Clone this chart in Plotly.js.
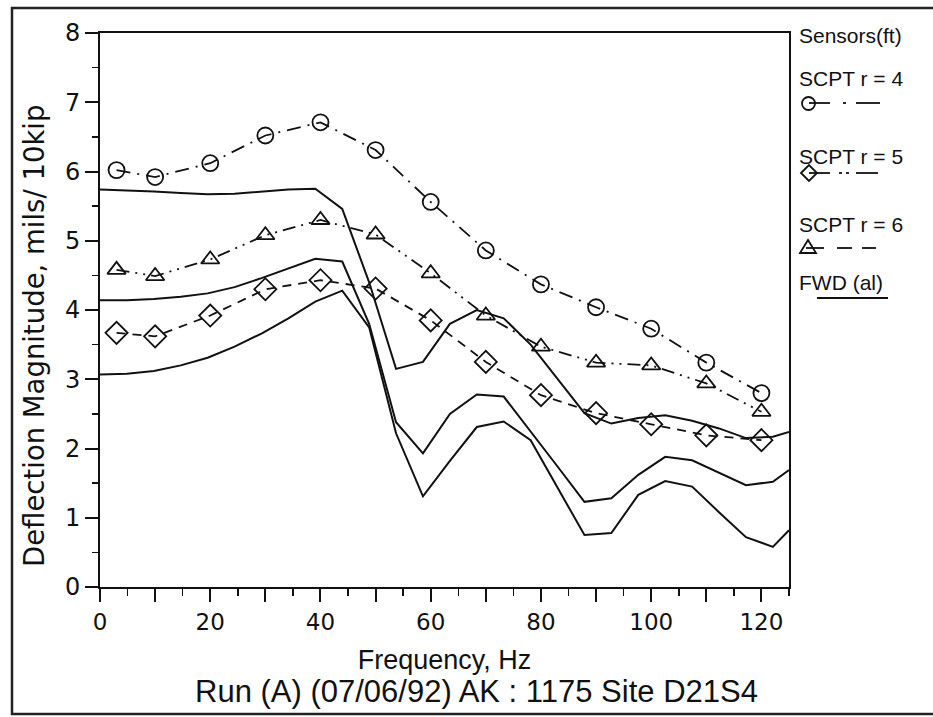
<!DOCTYPE html>
<html>
<head>
<meta charset="utf-8">
<script src="https://cdn.plot.ly/plotly-3.0.1.min.js"></script>
<style>
  html, body { margin: 0; padding: 0; background: #ffffff; }
  #chart { width: 933px; height: 717px; }
</style>
</head>
<body>
<div id="chart"></div>
<script>
// ---- Data ----
const sensorFreq = [3, 10, 20, 30, 40, 50, 60, 70, 80, 90, 100, 110, 120];
const scptR4 = [6.02, 5.92, 6.12, 6.52, 6.71, 6.31, 5.56, 4.86, 4.37, 4.04, 3.73, 3.24, 2.80];
const scptR5 = [3.67, 3.62, 3.92, 4.30, 4.43, 4.31, 3.85, 3.25, 2.77, 2.51, 2.35, 2.19, 2.12];
const scptR6 = [4.58, 4.49, 4.73, 5.08, 5.30, 5.09, 4.53, 3.92, 3.47, 3.24, 3.20, 2.94, 2.53];

const fwdFreq = [0, 4.88, 9.77, 14.65, 19.53, 24.41, 29.30, 34.18, 39.06, 43.95, 48.83, 53.71,
                 58.59, 63.48, 68.36, 73.24, 78.13, 83.01, 87.89, 92.77, 97.66, 102.54, 107.42,
                 112.30, 117.19, 122.07, 125];
const fwdUpper = [5.74, 5.73, 5.71, 5.69, 5.67, 5.68, 5.71, 5.74, 5.75, 5.46, 4.40, 3.15,
                  3.25, 3.80, 4.00, 3.88, 3.50, 3.00, 2.51, 2.36, 2.44, 2.48, 2.40,
                  2.29, 2.15, 2.17, 2.24];
const fwdMiddle = [4.14, 4.14, 4.16, 4.19, 4.24, 4.33, 4.46, 4.60, 4.74, 4.70, 3.80, 2.38,
                   1.93, 2.50, 2.78, 2.75, 2.25, 1.74, 1.23, 1.28, 1.62, 1.88, 1.83,
                   1.65, 1.47, 1.52, 1.69];
const fwdLower = [3.07, 3.08, 3.12, 3.20, 3.31, 3.47, 3.66, 3.88, 4.12, 4.28, 3.75, 2.22,
                  1.31, 1.82, 2.31, 2.39, 2.12, 1.43, 0.75, 0.78, 1.33, 1.53, 1.45,
                  1.08, 0.72, 0.58, 0.82];

const xTickVals = [0, 10, 20, 30, 40, 50, 60, 70, 80, 90, 100, 110, 120];
const xTickText = ['0', '', '20', '', '40', '', '60', '', '80', '', '100', '', '120'];
const yTickVals = [0, 1, 2, 3, 4, 5, 6, 7, 8];

const legendLabels = ['Sensors(ft)', 'SCPT r = 4', 'SCPT r = 5', 'SCPT r = 6', 'FWD (al)'];
const xTitle = 'Frequency, Hz';
const yTitle = 'Deflection Magnitude, mils/ 10kip';
const caption = 'Run (A) (07/06/92) AK : 1175 Site D21S4';

// ---- Layout geometry ----
const W = 933, H = 717;
const M = { l: 100, r: 144, t: 33, b: 130 };
const PW = W - M.l - M.r, PH = H - M.t - M.b;
const px = x => (x - M.l) / PW;
const py = y => (H - M.b - y) / PH;

const FONT_AX = 'DejaVu Sans, Liberation Sans, sans-serif';
const FONT_TX = 'Liberation Sans, Arial, sans-serif';

const traces = [];
function fwd(y) {
  return { x: fwdFreq, y: y, mode: 'lines', type: 'scatter', showlegend: false,
           line: { color: '#111', width: 2 }, hoverinfo: 'x+y' };
}
traces.push(fwd(fwdUpper), fwd(fwdMiddle), fwd(fwdLower));
traces.push({ x: sensorFreq, y: scptR4, type: 'scatter', mode: 'lines+markers', name: legendLabels[1],
  line: { color: '#111', width: 1.8, dash: '14px,7px,2px,7px' },
  marker: { symbol: 'circle-open', size: 16, color: '#111', line: { width: 1.8 } }, showlegend: false });
traces.push({ x: sensorFreq, y: scptR5, type: 'scatter', mode: 'lines+markers', name: legendLabels[2],
  line: { color: '#111', width: 1.8, dash: '9px,7px' },
  marker: { symbol: 'diamond-open', size: 17, color: '#111', line: { width: 1.8 } }, showlegend: false });
traces.push({ x: sensorFreq, y: scptR6, type: 'scatter', mode: 'lines+markers', name: legendLabels[3],
  line: { color: '#111', width: 1.8, dash: '13px,6px,2px,6px,2px,6px' },
  marker: { symbol: 'triangle-up-open', size: 16, color: '#111', line: { width: 1.8 } }, showlegend: false });

// ---- Legend (drawn by hand like the reference) ----
const shapes = [];
function seg(x0, x1, y, w) {
  shapes.push({ type: 'line', xref: 'paper', yref: 'paper', x0: px(x0), x1: px(x1), y0: py(y), y1: py(y),
                line: { color: '#111', width: w || 1.8 } });
}
function pathPx(pts, w) {
  const d = pts.map((p, i) => (i ? 'L' : 'M') + px(p[0]).toFixed(5) + ',' + py(p[1]).toFixed(5)).join(' ') + ' Z';
  shapes.push({ type: 'path', xref: 'paper', yref: 'paper', path: d, line: { color: '#111', width: w || 1.8 } });
}
// r = 4 : circle, dash-dot
shapes.push({ type: 'circle', xref: 'paper', yref: 'paper', x0: px(802), x1: px(815), y0: py(97), y1: py(110),
              line: { color: '#111', width: 1.8 } });
seg(809, 830, 103); seg(843, 846, 103); seg(856, 880, 103);
// r = 5 : diamond, dash-dot-dot
pathPx([[801, 173], [809, 165], [817, 173], [809, 181]]);
seg(809, 830, 173); seg(839, 842, 173); seg(846, 849, 173); seg(856, 878, 173);
// r = 6 : triangle, dashes
pathPx([[800, 253], [808, 240], [816, 253]]);
seg(806, 824, 248); seg(837, 852, 248); seg(862, 876, 248);
// FWD : solid
seg(817, 888, 298, 2);

// outer frame of the figure
shapes.push({ type: 'rect', xref: 'paper', yref: 'paper', x0: px(12), x1: px(950), y0: py(8), y1: py(714),
              line: { color: '#222', width: 2.5 } });

const annotations = [];
const legendY = [36, 78, 156, 224, 282];
legendLabels.forEach((t, i) => annotations.push({
  text: t, xref: 'paper', yref: 'paper', x: px(797), y: py(legendY[i]), xanchor: 'left', yanchor: 'middle',
  showarrow: false, font: { family: FONT_TX, size: 21, color: '#111' } }));
annotations.push({ text: caption, xref: 'paper', yref: 'paper',
  x: px(476), y: py(691), xanchor: 'center', yanchor: 'middle', showarrow: false,
  font: { family: FONT_TX, size: 31, color: '#111' } });
annotations.push({ text: yTitle, xref: 'paper', yref: 'paper', textangle: -90,
  x: px(34), y: py(336), xanchor: 'center', yanchor: 'middle', showarrow: false,
  font: { family: FONT_AX, size: 27.5, color: '#111' } });

const layout = {
  width: W, height: H,
  margin: M,
  paper_bgcolor: '#ffffff', plot_bgcolor: '#ffffff',
  showlegend: false,
  xaxis: {
    range: [0, 125], tickmode: 'array', tickvals: xTickVals, ticktext: xTickText,
    ticks: 'outside', ticklen: 13, tickwidth: 2, tickcolor: '#111',
    minor: { dtick: 5, ticks: 'outside', ticklen: 7, tickwidth: 1.5, tickcolor: '#111' },
    showline: true, linecolor: '#111', linewidth: 2, mirror: true,
    showgrid: false, zeroline: false,
    tickfont: { family: FONT_AX, size: 23, color: '#111' },
    title: { text: xTitle, font: { family: FONT_TX, size: 27, color: '#111' }, standoff: 17 }
  },
  yaxis: {
    range: [0, 8], tickmode: 'array', tickvals: yTickVals,
    ticks: 'outside', ticklen: 13, tickwidth: 2, tickcolor: '#111',
    minor: { dtick: 0.5, ticks: 'outside', ticklen: 6, tickwidth: 1.5, tickcolor: '#111' },
    showline: true, linecolor: '#111', linewidth: 2, mirror: true,
    showgrid: false, zeroline: false,
    tickfont: { family: FONT_AX, size: 24, color: '#111' }
  },
  shapes: shapes,
  annotations: annotations
};

Plotly.newPlot('chart', traces, layout, { displayModeBar: false, staticPlot: true });
</script>
</body>
</html>
